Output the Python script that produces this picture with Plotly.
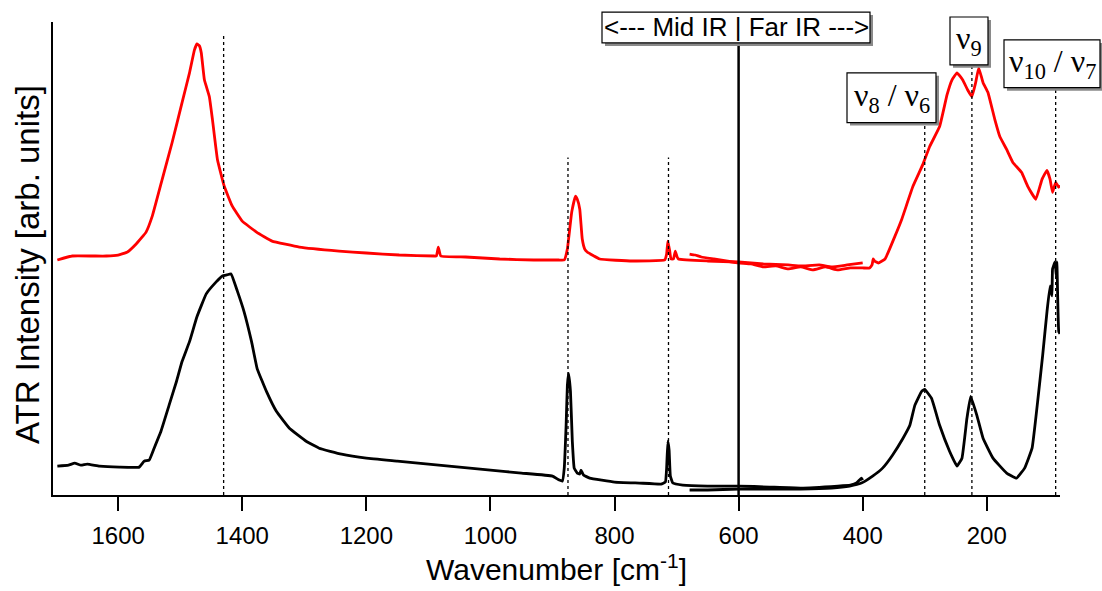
import plotly.graph_objects as go

# ---------------- data (wavenumber in cm^-1, ATR intensity in arb. units) -------------
red_mid_wn = [1698, 1674, 1640, 1619, 1600, 1585, 1571, 1555, 1545, 1529, 1513, 1497, 1485,
              1477, 1473, 1469, 1466, 1461, 1453, 1448, 1440, 1429, 1416, 1400, 1377, 1352,
              1308, 1244, 1200, 1147, 1090, 1087, 1084, 1080, 1040, 985, 930, 890, 881, 876,
              869, 863, 860, 856, 852, 848, 844, 824, 771, 719, 716, 714, 711, 709, 705, 702,
              699, 697, 650, 600, 560, 520, 500, 470, 450, 425, 400]
red_mid_int = [236, 240, 240, 240, 241, 244, 252, 264, 280, 317, 354, 394, 424,
               447, 453, 451, 444, 417, 400, 377, 337, 310, 290, 275, 264, 255,
               249, 245, 243, 241, 240, 240, 249, 240, 239, 237, 236, 236, 236, 247,
               284, 300, 297, 287, 257, 247, 244, 237, 235, 236, 242, 255, 245, 237, 237, 245,
               239, 237, 235, 234, 232, 231, 230, 231, 229, 231, 233]

red_far_wn = [679, 670, 660, 640, 620, 600, 580, 560, 540, 520, 500, 480, 460, 440, 420,
              400, 389, 385, 383, 381, 375, 364, 348, 337, 319, 303, 292, 276, 264, 256,
              248, 239, 231, 224, 218, 213, 206, 198, 187, 179, 168, 158, 144, 134, 121,
              111, 103, 98, 94, 89, 84, 82]
red_far_int = [242, 241, 239, 237, 235, 233, 232, 229, 230, 227, 229, 226, 229, 226, 228,
               228, 228, 231, 237, 235, 233, 237, 260, 277, 310, 332, 350, 370, 402, 417,
               424, 417, 407, 400, 414, 429, 414, 404, 377, 360, 347, 334, 324, 310, 297,
               317, 326, 317, 304, 314, 309, 311]

black_mid_wn = [1698, 1680, 1670, 1660, 1650, 1630, 1598, 1566, 1558, 1550, 1542, 1531, 1518,
                1506, 1497, 1485, 1473, 1458, 1442, 1432, 1425, 1418, 1408, 1397, 1385,
                1376, 1361, 1345, 1324, 1297, 1276, 1240, 1200, 1150, 1100, 1050, 1000, 950,
                900, 889, 884, 881, 878, 876, 874, 871, 868, 865, 860, 856, 854, 850, 840,
                800, 760, 725, 718, 716, 714, 712, 710, 706, 690, 650, 600, 550, 500, 440,
                420, 410, 402, 400]
black_mid_int = [29, 30, 32, 30, 31, 29, 28, 28, 34, 35, 47, 64, 90,
                 114, 134, 154, 179, 202, 214, 220, 221, 222, 205, 184, 154,
                 127, 104, 84, 67, 54, 47, 41, 37, 34, 31, 28, 25, 22,
                 19, 15, 14, 27, 70, 110, 122, 104, 54, 27, 22, 21, 25, 20, 17,
                 13, 12, 11, 13, 27, 54, 45, 19, 12, 10, 9, 9, 8, 7, 9,
                 10, 12, 17, 15]

black_far_wn = [679, 650, 600, 550, 500, 450, 421, 402, 384, 368, 352, 335, 324, 316, 305,
                300, 289, 276, 260, 248, 240, 232, 226, 216, 206, 190, 168, 152, 139, 127,
                118, 110, 103, 98, 95, 94, 90, 88, 87, 84, 82]
black_far_int = [5, 5, 6, 6, 6, 7, 9, 12, 19, 27, 40, 57, 70, 90, 104,
                 106, 97, 70, 44, 29, 37, 77, 99, 80, 57, 37, 22, 17, 27, 47,
                 94, 140, 184, 210, 200, 227, 234, 220, 234, 164, 162]

mode_positions = [1430, 875, 713, 300, 224, 89]
mode_line_tops = [464, 339, 339, 374, 432, 409]
divider_position = 600
divider_top = 454

x_ticks = [1600, 1400, 1200, 1000, 800, 600, 400, 200]
x_range = [1705, 82]
y_range = [0, 475]

# ---------------- layout helpers (pixel -> paper) ----------------
W, H = 1102, 591
L, R, T, B = 53, 1060, 22, 497


def pxx(x):
    return (x - L) / (R - L)


def pxy(y):
    return (B - y) / (B - T)


fig = go.Figure()

for wn, inten, col in [(red_mid_wn, red_mid_int, "#ff0000"),
                       (red_far_wn, red_far_int, "#ff0000"),
                       (black_mid_wn, black_mid_int, "#000000"),
                       (black_far_wn, black_far_int, "#000000")]:
    fig.add_trace(go.Scatter(x=wn, y=inten, mode="lines",
                             line=dict(color=col, width=2.8, shape="spline", smoothing=0.3),
                             showlegend=False, hoverinfo="skip"))

shapes = []
for xp, top in zip(mode_positions, mode_line_tops):
    shapes.append(dict(type="line", xref="x", yref="y", x0=xp, x1=xp, y0=0, y1=top,
                       line=dict(color="black", width=1.3, dash="3px,3px"), layer="above"))
shapes.append(dict(type="line", xref="x", yref="y", x0=divider_position, x1=divider_position,
                   y0=0, y1=divider_top, line=dict(color="black", width=2.5), layer="above"))

serif = dict(family="Liberation Serif, Times New Roman", size=32, color="black")
boxes = [
    (602, 12, 870, 43, "&lt;--- Mid IR | Far IR ---&gt;", dict(family="Liberation Sans, Arial", size=26, color="black")),
    (950, 17, 988, 65, "ν<sub>9</sub>", serif),
    (847, 73, 936, 123, "ν<sub>8</sub> / ν<sub>6</sub>", serif),
    (1004, 40, 1100, 88, "ν<sub>10</sub> / ν<sub>7</sub>", serif),
]
annotations = []
for x0, y0, x1, y1, txt, fnt in boxes:
    shapes.append(dict(type="rect", xref="paper", yref="paper",
                       x0=pxx(x0 + 3), x1=pxx(x1 + 3), y0=pxy(y1 + 3), y1=pxy(y0 + 3),
                       fillcolor="#8a8a8a", line=dict(width=0), layer="above"))
    shapes.append(dict(type="rect", xref="paper", yref="paper",
                       x0=pxx(x0), x1=pxx(x1), y0=pxy(y1), y1=pxy(y0),
                       fillcolor="white", line=dict(color="black", width=1.2), layer="above"))
    annotations.append(dict(xref="paper", yref="paper", x=pxx((x0 + x1) / 2), y=pxy((y0 + y1) / 2),
                            text=txt, showarrow=False, font=fnt, xanchor="center", yanchor="middle"))

annotations.append(dict(xref="paper", yref="paper", x=pxx(28), y=pxy(266),
                        text="ATR Intensity [arb. units]", textangle=-90, showarrow=False,
                        font=dict(family="Liberation Sans, Arial", size=33, color="black"),
                        xanchor="center", yanchor="middle"))

fig.update_layout(
    width=W, height=H,
    margin=dict(l=L, r=W - R, t=T, b=H - B),
    paper_bgcolor="white", plot_bgcolor="white",
    shapes=shapes, annotations=annotations,
    xaxis=dict(range=x_range, tickvals=x_ticks, ticktext=[str(v) for v in x_ticks],
               ticks="outside", ticklen=14, tickwidth=2, tickcolor="black",
               ticklabelstandoff=4,
               showline=True, linewidth=2, linecolor="black", showgrid=False, zeroline=False,
               tickfont=dict(family="Liberation Sans, Arial", size=24, color="black"),
               title=dict(text="Wavenumber [cm<sup>-1</sup>]", standoff=9,
                          font=dict(family="Liberation Sans, Arial", size=30, color="black"))),
    yaxis=dict(range=y_range, showticklabels=False, ticks="", showline=True, linewidth=2,
               linecolor="black", showgrid=False, zeroline=False),
)

fig.write_html("out.html")
